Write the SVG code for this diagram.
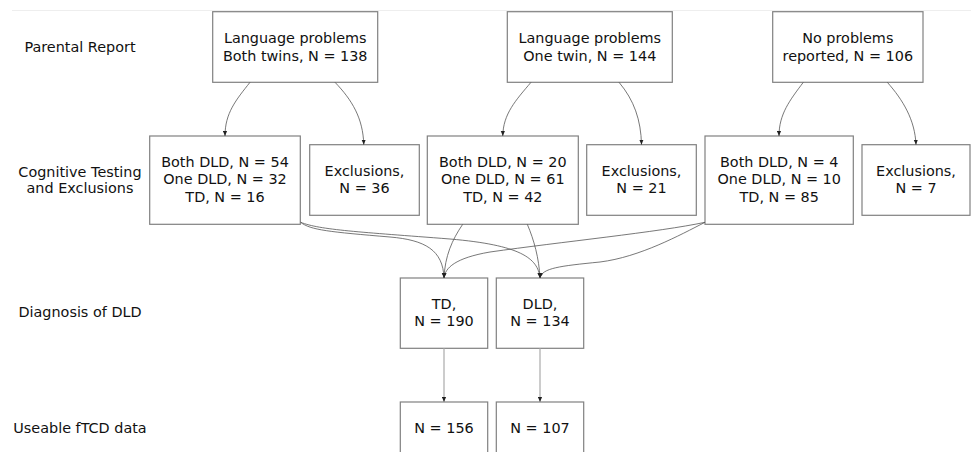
<svg xmlns="http://www.w3.org/2000/svg" width="971" height="452" viewBox="0 0 971 452">
<defs>
<style>
.box{fill:#fff;stroke:#808080;stroke-width:1.2}
.t{font-family:"DejaVu Sans",Verdana,sans-serif;font-size:14.4px;fill:#111;text-anchor:middle}
.c{fill:none;stroke:#555;stroke-width:0.8}
.v{fill:none;stroke:#aaa;stroke-width:1.2}
</style>
<marker id="ah" viewBox="0 0 6 6" refX="6" refY="3" markerWidth="5" markerHeight="5" markerUnits="userSpaceOnUse" orient="auto">
<path d="M0,0.5 L6,3 L0,5.5 z" fill="#222"/>
</marker>
</defs>
<rect width="971" height="452" fill="#fff"/>
<line x1="12" y1="10.5" x2="971" y2="10.5" stroke="#eee" stroke-width="1"/>

<g id="row-labels">
<text class="t" x="80" y="51.7">Parental Report</text>
<text class="t" x="80" y="176.7">Cognitive Testing</text>
<text class="t" x="80" y="193.3">and Exclusions</text>
<text class="t" x="80" y="317.3">Diagnosis of DLD</text>
<text class="t" x="80" y="432.7">Useable fTCD data</text>
</g>

<g id="n-both-twins"><rect class="box" x="212.7" y="11.7" width="165" height="70.6"/>
<text class="t" x="295.2" y="43.3">Language problems</text><text class="t" x="295.2" y="60.7">Both twins, N = 138</text></g>
<g id="n-one-twin"><rect class="box" x="507.3" y="11.7" width="165" height="70.6"/>
<text class="t" x="589.8" y="43.3">Language problems</text><text class="t" x="589.8" y="60.7">One twin, N = 144</text></g>
<g id="n-no-problems"><rect class="box" x="772.7" y="11.7" width="150.3" height="70.6"/>
<text class="t" x="847.8" y="43.3">No problems</text><text class="t" x="847.8" y="60.7">reported, N = 106</text></g>

<g id="n-test-a"><rect class="box" x="149.7" y="136" width="150.6" height="88.3"/>
<text class="t" x="225" y="166.7">Both DLD, N = 54</text><text class="t" x="225" y="184.3">One DLD, N = 32</text><text class="t" x="225" y="201.7">TD, N = 16</text></g>
<g id="n-excl-a"><rect class="box" x="309.7" y="144.7" width="109.6" height="70.6"/>
<text class="t" x="364.5" y="176">Exclusions,</text><text class="t" x="364.5" y="193.3">N = 36</text></g>
<g id="n-test-b"><rect class="box" x="427.3" y="136" width="151" height="88.3"/>
<text class="t" x="502.8" y="166.7">Both DLD, N = 20</text><text class="t" x="502.8" y="184.3">One DLD, N = 61</text><text class="t" x="502.8" y="201.7">TD, N = 42</text></g>
<g id="n-excl-b"><rect class="box" x="586.7" y="144.7" width="109.6" height="70.6"/>
<text class="t" x="641.5" y="176">Exclusions,</text><text class="t" x="641.5" y="193.3">N = 21</text></g>
<g id="n-test-c"><rect class="box" x="705" y="136" width="148.3" height="88.3"/>
<text class="t" x="779.2" y="166.7">Both DLD, N = 4</text><text class="t" x="779.2" y="184.3">One DLD, N = 10</text><text class="t" x="779.2" y="201.7">TD, N = 85</text></g>
<g id="n-excl-c"><rect class="box" x="862" y="144.7" width="108" height="70.6"/>
<text class="t" x="916" y="176">Exclusions,</text><text class="t" x="916" y="193.3">N = 7</text></g>

<g id="n-td"><rect class="box" x="400.3" y="278" width="87.4" height="70.3"/>
<text class="t" x="444" y="309.3">TD,</text><text class="t" x="444" y="326">N = 190</text></g>
<g id="n-dld"><rect class="box" x="496.3" y="278" width="87.4" height="70.3"/>
<text class="t" x="540" y="309.3">DLD,</text><text class="t" x="540" y="326">N = 134</text></g>

<g id="n-ftcd-td"><rect class="box" x="400.3" y="402" width="87.4" height="70"/>
<text class="t" x="444" y="432.7">N = 156</text></g>
<g id="n-ftcd-dld"><rect class="box" x="496.3" y="402" width="87.4" height="70"/>
<text class="t" x="540" y="432.7">N = 107</text></g>

<g id="connectors">
<path class="c" marker-end="url(#ah)" d="M250,82.3 C236,100 225,113 225,136"/>
<path class="c" marker-end="url(#ah)" d="M335,82.3 C352,100 363,118 363.8,144.7"/>
<path class="c" marker-end="url(#ah)" d="M531,82.3 C516,100 503,114 502.8,136"/>
<path class="c" marker-end="url(#ah)" d="M619,82.3 C634,100 641,120 641.5,144.7"/>
<path class="c" marker-end="url(#ah)" d="M803.3,82.3 C790,100 779,114 779,136"/>
<path class="c" marker-end="url(#ah)" d="M887.3,82.3 C903,100 915,120 916,144.7"/>

<path class="c" marker-end="url(#ah)" d="M300.7,222.3 C310,230 330,232 390,237 C425,240 443,250 444,278"/>
<path class="c" marker-end="url(#ah)" d="M300.7,222.3 C320,230 360,232 450,239 C520,245 538,258 540,278"/>
<path class="c" marker-end="url(#ah)" d="M462.7,224.3 C452,240 445,256 444,278"/>
<path class="c" marker-end="url(#ah)" d="M527.3,224.3 C534,240 539,258 540,278"/>
<path class="c" marker-end="url(#ah)" d="M705,222.3 C660,232 560,242 490,252 C455,258 445,268 444,278"/>
<path class="c" marker-end="url(#ah)" d="M705,222.3 C680,235 640,257 600,262 C560,266 542,268 540,278"/>

<path class="v" marker-end="url(#ah)" d="M444,348.3 L444,402"/>
<path class="v" marker-end="url(#ah)" d="M540,348.3 L540,402"/>
</g>
</svg>
